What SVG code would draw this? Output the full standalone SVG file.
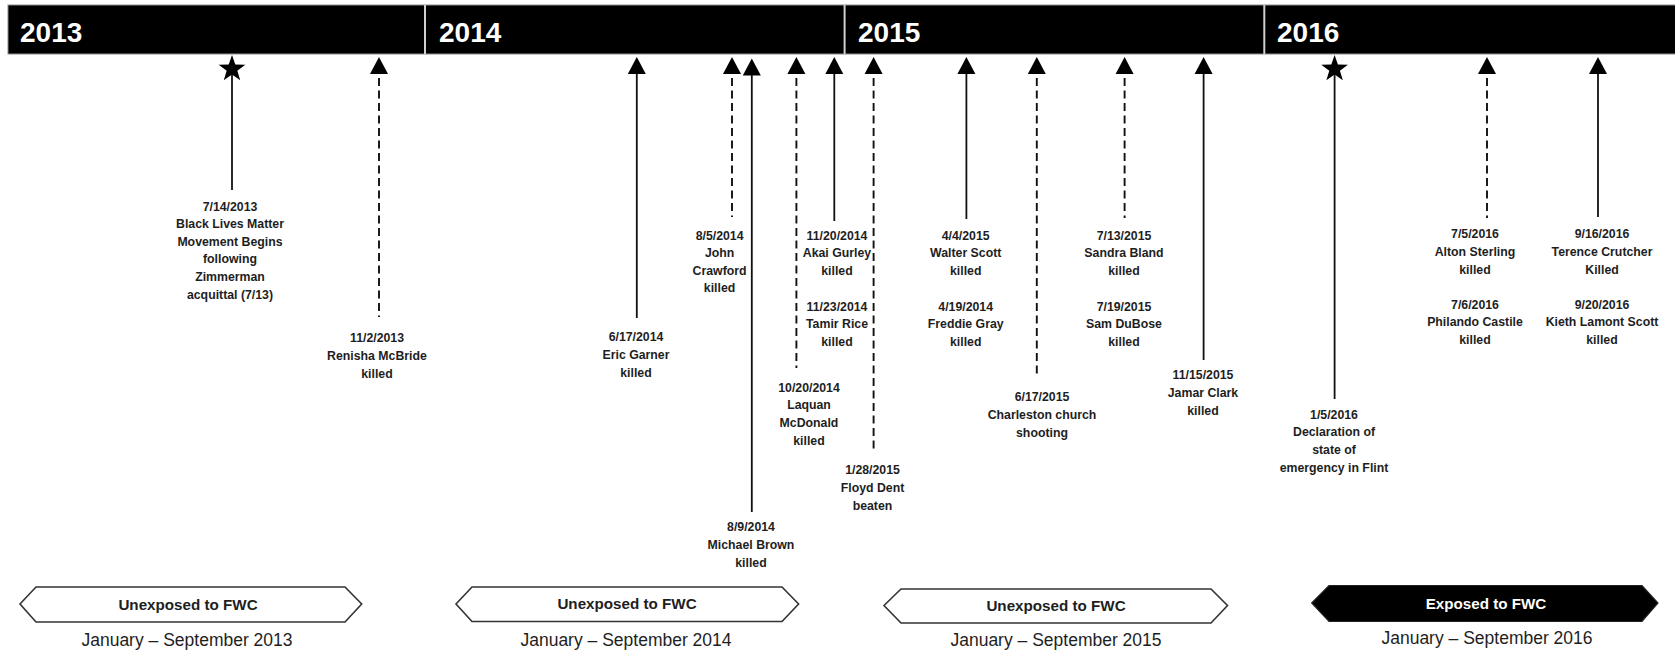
<svg xmlns="http://www.w3.org/2000/svg" xmlns:xlink="http://www.w3.org/1999/xlink" width="1675" height="650" viewBox="0 0 1675 650">
  <style>
    .year { font-family: "Liberation Sans", Arial, sans-serif; font-size: 28px; font-weight: bold; fill: #ffffff; }
    .lbl { font-family: "Liberation Sans", Arial, sans-serif; font-size: 12.3px; font-weight: bold; fill: #1e1e1e; text-anchor: middle; }
    .band { font-family: "Liberation Sans", Arial, sans-serif; font-size: 15.2px; font-weight: bold; fill: #1e1e1e; text-anchor: middle; }
    .band-inv { fill: #ffffff; }
    .period { font-family: "Liberation Sans", Arial, sans-serif; font-size: 17.5px; fill: #1e1e1e; text-anchor: middle; }
    .solid { stroke: #111; stroke-width: 1.8; fill: none; }
    .dash { stroke: #111; stroke-width: 1.9; fill: none; stroke-dasharray: 8 4.5; }
    .head { fill: #000; }
    .open { fill: #ffffff; stroke: #333; stroke-width: 1.6; }
    .filled { fill: #000; stroke: #222; stroke-width: 1.2; }
  </style>
  <defs>
    <path id="tri" d="M0,0 L9,17 L-9,17 Z"/>
    <path id="star" d="M0,-14 L3.292,-4.531 L13.315,-4.326 L5.326,1.73 L8.229,11.326 L0,5.6 L-8.229,11.326 L-5.326,1.73 L-13.315,-4.326 L-3.292,-4.531 Z"/>
  </defs>

  <!-- year header bar -->
  <g id="year-bar">
    <rect x="8" y="5" width="1672" height="49" fill="#000" stroke="#8c8c8c" stroke-width="1"/>
    <line x1="425" y1="5" x2="425" y2="54" stroke="#d0d0d0" stroke-width="2"/>
    <line x1="844.6" y1="5" x2="844.6" y2="54" stroke="#d0d0d0" stroke-width="2"/>
    <line x1="1264.3" y1="5" x2="1264.3" y2="54" stroke="#d0d0d0" stroke-width="2"/>
    <text class="year" x="20" y="42">2013</text>
    <text class="year" x="439" y="42">2014</text>
    <text class="year" x="858" y="42">2015</text>
    <text class="year" x="1277" y="42">2016</text>
  </g>

  <!-- event connectors: solid and dashed stems with arrowheads or stars -->
  <g id="connectors">
    <line class="solid" x1="232" y1="69" x2="232" y2="190"/>
    <use xlink:href="#star" x="232" y="69" class="head"/>

    <line class="dash" x1="379" y1="78" x2="379" y2="317"/>
    <use xlink:href="#tri" x="379" y="57" class="head"/>

    <line class="solid" x1="636.8" y1="70" x2="636.8" y2="318"/>
    <use xlink:href="#tri" x="636.8" y="57" class="head"/>

    <line class="dash" x1="732" y1="78" x2="732" y2="217"/>
    <use xlink:href="#tri" x="732" y="57" class="head"/>

    <line class="solid" x1="751.8" y1="70" x2="751.8" y2="512"/>
    <use xlink:href="#tri" x="751.8" y="58.5" class="head"/>

    <line class="dash" x1="796.4" y1="78" x2="796.4" y2="368"/>
    <use xlink:href="#tri" x="796.4" y="57" class="head"/>

    <line class="solid" x1="834.3" y1="70" x2="834.3" y2="221"/>
    <use xlink:href="#tri" x="834.3" y="57" class="head"/>

    <line class="dash" x1="873.6" y1="78" x2="873.6" y2="453"/>
    <use xlink:href="#tri" x="873.6" y="57" class="head"/>

    <line class="solid" x1="966.4" y1="70" x2="966.4" y2="219"/>
    <use xlink:href="#tri" x="966.4" y="57" class="head"/>

    <line class="dash" x1="1036.8" y1="78" x2="1036.8" y2="378"/>
    <use xlink:href="#tri" x="1036.8" y="57" class="head"/>

    <line class="dash" x1="1124.6" y1="78" x2="1124.6" y2="218"/>
    <use xlink:href="#tri" x="1124.6" y="57" class="head"/>

    <line class="solid" x1="1203.6" y1="70" x2="1203.6" y2="360"/>
    <use xlink:href="#tri" x="1203.6" y="57" class="head"/>

    <line class="solid" x1="1334.6" y1="69" x2="1334.6" y2="399"/>
    <use xlink:href="#star" x="1334.6" y="69" class="head"/>

    <line class="dash" x1="1487" y1="78" x2="1487" y2="218"/>
    <use xlink:href="#tri" x="1487" y="57" class="head"/>

    <line class="solid" x1="1598" y1="70" x2="1598" y2="217"/>
    <use xlink:href="#tri" x="1598" y="57" class="head"/>
  </g>

  <!-- event labels -->
  <g id="ev-blm">
    <text class="lbl" x="230" y="210.5"><tspan x="230">7/14/2013</tspan><tspan x="230" dy="17.6">Black Lives Matter</tspan><tspan x="230" dy="17.6">Movement Begins</tspan><tspan x="230" dy="17.6">following</tspan><tspan x="230" dy="17.6">Zimmerman</tspan><tspan x="230" dy="17.6">acquittal (7/13)</tspan></text>
  </g>
  <g id="ev-mcbride">
    <text class="lbl" x="377" y="341.5"><tspan x="377">11/2/2013</tspan><tspan x="377" dy="18.3">Renisha McBride</tspan><tspan x="377" dy="18.3">killed</tspan></text>
  </g>
  <g id="ev-garner">
    <text class="lbl" x="636" y="340.5"><tspan x="636">6/17/2014</tspan><tspan x="636" dy="18">Eric Garner</tspan><tspan x="636" dy="18">killed</tspan></text>
  </g>
  <g id="ev-crawford">
    <text class="lbl" x="719.6" y="239.5"><tspan x="719.6">8/5/2014</tspan><tspan x="719.6" dy="17.6">John</tspan><tspan x="719.6" dy="17.6">Crawford</tspan><tspan x="719.6" dy="17.6">killed</tspan></text>
  </g>
  <g id="ev-brown">
    <text class="lbl" x="751" y="530.5"><tspan x="751">8/9/2014</tspan><tspan x="751" dy="18">Michael Brown</tspan><tspan x="751" dy="18">killed</tspan></text>
  </g>
  <g id="ev-mcdonald">
    <text class="lbl" x="809" y="391.5"><tspan x="809">10/20/2014</tspan><tspan x="809" dy="17.7">Laquan</tspan><tspan x="809" dy="17.7">McDonald</tspan><tspan x="809" dy="17.7">killed</tspan></text>
  </g>
  <g id="ev-gurley-rice">
    <text class="lbl" x="837" y="239.5"><tspan x="837">11/20/2014</tspan><tspan x="837" dy="17.8">Akai Gurley</tspan><tspan x="837" dy="17.8">killed</tspan></text>
    <text class="lbl" x="837" y="310.5"><tspan x="837">11/23/2014</tspan><tspan x="837" dy="17.6">Tamir Rice</tspan><tspan x="837" dy="17.6">killed</tspan></text>
  </g>
  <g id="ev-dent">
    <text class="lbl" x="872.5" y="473.5"><tspan x="872.5">1/28/2015</tspan><tspan x="872.5" dy="18.3">Floyd Dent</tspan><tspan x="872.5" dy="18.3">beaten</tspan></text>
  </g>
  <g id="ev-scott-gray">
    <text class="lbl" x="965.7" y="239.5"><tspan x="965.7">4/4/2015</tspan><tspan x="965.7" dy="17.8">Walter Scott</tspan><tspan x="965.7" dy="17.8">killed</tspan></text>
    <text class="lbl" x="965.7" y="310.5"><tspan x="965.7">4/19/2014</tspan><tspan x="965.7" dy="17.6">Freddie Gray</tspan><tspan x="965.7" dy="17.6">killed</tspan></text>
  </g>
  <g id="ev-charleston">
    <text class="lbl" x="1042" y="400.5"><tspan x="1042">6/17/2015</tspan><tspan x="1042" dy="18">Charleston church</tspan><tspan x="1042" dy="18">shooting</tspan></text>
  </g>
  <g id="ev-bland-dubose">
    <text class="lbl" x="1124" y="239.5"><tspan x="1124">7/13/2015</tspan><tspan x="1124" dy="17.8">Sandra Bland</tspan><tspan x="1124" dy="17.8">killed</tspan></text>
    <text class="lbl" x="1124" y="310.5"><tspan x="1124">7/19/2015</tspan><tspan x="1124" dy="17.6">Sam DuBose</tspan><tspan x="1124" dy="17.6">killed</tspan></text>
  </g>
  <g id="ev-clark">
    <text class="lbl" x="1203" y="378.5"><tspan x="1203">11/15/2015</tspan><tspan x="1203" dy="18.3">Jamar Clark</tspan><tspan x="1203" dy="18.3">killed</tspan></text>
  </g>
  <g id="ev-flint">
    <text class="lbl" x="1334" y="418.5"><tspan x="1334">1/5/2016</tspan><tspan x="1334" dy="17.7">Declaration of</tspan><tspan x="1334" dy="17.7">state of</tspan><tspan x="1334" dy="17.7">emergency in Flint</tspan></text>
  </g>
  <g id="ev-sterling-castile">
    <text class="lbl" x="1475" y="237.5"><tspan x="1475">7/5/2016</tspan><tspan x="1475" dy="18">Alton Sterling</tspan><tspan x="1475" dy="18">killed</tspan></text>
    <text class="lbl" x="1475" y="308.5"><tspan x="1475">7/6/2016</tspan><tspan x="1475" dy="17.6">Philando Castile</tspan><tspan x="1475" dy="17.6">killed</tspan></text>
  </g>
  <g id="ev-crutcher-scott">
    <text class="lbl" x="1602" y="237.5"><tspan x="1602">9/16/2016</tspan><tspan x="1602" dy="18">Terence Crutcher</tspan><tspan x="1602" dy="18">Killed</tspan></text>
    <text class="lbl" x="1602" y="308.5"><tspan x="1602">9/20/2016</tspan><tspan x="1602" dy="17.6">Kieth Lamont Scott</tspan><tspan x="1602" dy="17.6">killed</tspan></text>
  </g>

  <!-- exposure period banners -->
  <g id="period-2013">
    <polygon class="open" points="20,604 36,587 345,587 361.7,604 345,622 36,622"/>
    <text class="band" x="188" y="609.5">Unexposed to FWC</text>
    <text class="period" x="187" y="646">January – September 2013</text>
  </g>
  <g id="period-2014">
    <polygon class="open" points="456,604 472,587 782,587 798.6,604 782,621.5 472,621.5"/>
    <text class="band" x="627" y="609">Unexposed to FWC</text>
    <text class="period" x="626" y="646">January – September 2014</text>
  </g>
  <g id="period-2015">
    <polygon class="open" points="884,605.5 901,589 1211,589 1227.5,605.5 1211,623 901,623"/>
    <text class="band" x="1056" y="611">Unexposed to FWC</text>
    <text class="period" x="1056" y="646">January – September 2015</text>
  </g>
  <g id="period-2016">
    <polygon class="filled" points="1311.7,603 1329,585.5 1642,585.5 1658,603 1642,621.5 1329,621.5"/>
    <text class="band band-inv" x="1486" y="608.5">Exposed to FWC</text>
    <text class="period" x="1487" y="644">January – September 2016</text>
  </g>
</svg>
